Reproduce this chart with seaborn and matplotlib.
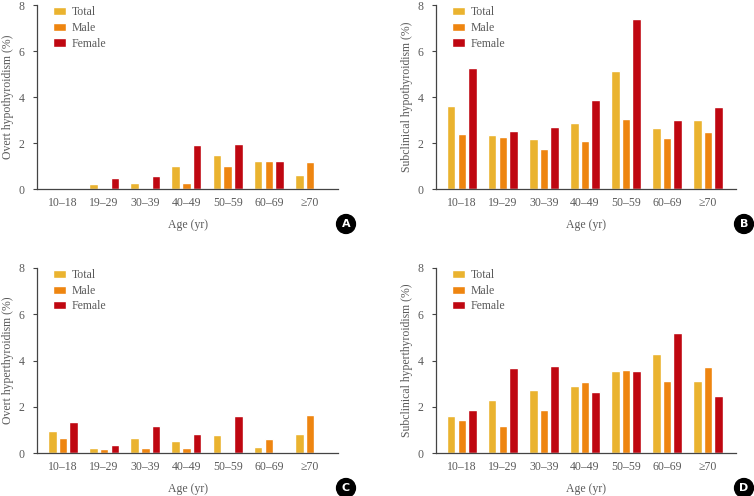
import pandas as pd
import numpy as np
import matplotlib.pyplot as plt
import seaborn as sns

# Age groups and series
ages = ['10–18', '19–29', '30–39', '40–49', '50–59', '60–69', '≥70']
groups = ['Total', 'Male', 'Female']

# A: overt hypothyroidism
a_total = [0.0, 0.22, 0.28, 1.01, 1.46, 1.23, 0.61]
a_male = [0.0, 0.0, 0.0, 0.25, 1.01, 1.23, 1.16]
a_female = [0.0, 0.48, 0.55, 1.93, 1.97, 1.23, 0.0]

# B: subclinical hypothyroidism
b_total = [3.62, 2.36, 2.19, 2.86, 5.13, 2.65, 3.01]
b_male = [2.41, 2.25, 1.74, 2.10, 3.03, 2.20, 2.46]
b_female = [5.26, 2.54, 2.68, 3.86, 7.38, 3.01, 3.58]

# C: overt hyperthyroidism
c_total = [0.95, 0.22, 0.65, 0.50, 0.76, 0.27, 0.82]
c_male = [0.65, 0.16, 0.22, 0.22, 0.0, 0.61, 1.63]
c_female = [1.35, 0.33, 1.17, 0.82, 1.60, 0.0, 0.0]

# D: subclinical hyperthyroidism
d_total = [1.60, 2.28, 2.72, 2.88, 3.54, 4.28, 3.13]
d_male = [1.43, 1.18, 1.86, 3.05, 3.60, 3.11, 3.72]
d_female = [1.84, 3.66, 3.76, 2.65, 3.56, 5.17, 2.45]

ylabels = ['Overt hypothyroidism (%)', 'Subclinical hypothyroidism (%)',
           'Overt hyperthyroidism (%)', 'Subclinical hyperthyroidism (%)']
letters = ['A', 'B', 'C', 'D']
colors = ['#EAB32F', '#EE8510', '#BF0711']
text_col = '#5a5a5a'

sns.set_style('white')
plt.rcParams['font.family'] = ['Liberation Serif', 'DejaVu Serif']


def long_df(total, male, female):
    rows = []
    for g, vals in zip(groups, [total, male, female]):
        for a, v in zip(ages, vals):
            rows.append({'age': a, 'group': g, 'value': v})
    return pd.DataFrame(rows)


datasets = [long_df(a_total, a_male, a_female), long_df(b_total, b_male, b_female),
            long_df(c_total, c_male, c_female), long_df(d_total, d_male, d_female)]

fig = plt.figure(figsize=(7.54, 4.96), dpi=100)
# axes boxes in pixels
lefts = [37, 436, 37, 436]
rights = [338, 736, 338, 736]
zeros = [189, 189, 453, 453]
eights = [5, 5, 268, 268]

for i in range(4):
    l = lefts[i] / 754
    w = (rights[i] - lefts[i]) / 754
    b = 1 - zeros[i] / 496
    h = (zeros[i] - eights[i]) / 496
    ax = fig.add_axes([l, b, w, h])
    sns.barplot(data=datasets[i], x='age', y='value', hue='group', order=ages,
                hue_order=groups, palette=colors, width=0.78, gap=0.2,
                saturation=1, ax=ax, errorbar=None)
    ax.set_xlim(-0.63, 6.68)
    ax.set_ylim(0, 8)
    ax.set_yticks([0, 2, 4, 6, 8])
    sns.despine(ax=ax)
    for s in ['left', 'bottom']:
        ax.spines[s].set_color('#444444')
        ax.spines[s].set_linewidth(0.9)
    ax.tick_params(axis='x', length=0, pad=6, labelsize=8.5, labelcolor=text_col)
    ax.tick_params(axis='y', length=3, width=0.8, color='#444444', pad=6,
                   labelsize=8.5, labelcolor=text_col, left=True)
    ax.set_xlabel('Age (yr)', fontsize=8.5, color=text_col, labelpad=7)
    ax.set_ylabel(ylabels[i], fontsize=8.5, color=text_col, labelpad=3.5)
    leg = ax.legend(loc='upper left', bbox_to_anchor=(0.017, 1.05), frameon=False,
                    fontsize=8.5, handlelength=1.1, handleheight=0.7,
                    handletextpad=0.5, labelspacing=0.3)
    for t in leg.get_texts():
        t.set_color(text_col)
    cx = (rights[i] + 8) / 754
    cy = 1 - (zeros[i] + 35) / 496
    fig.text(cx, cy, letters[i], ha='center', va='center', color='white',
             fontsize=8, fontweight='bold', family='DejaVu Sans',
             bbox=dict(boxstyle='circle,pad=0.4', fc='black', ec='black'))

plt.savefig('out.png', dpi=100)
